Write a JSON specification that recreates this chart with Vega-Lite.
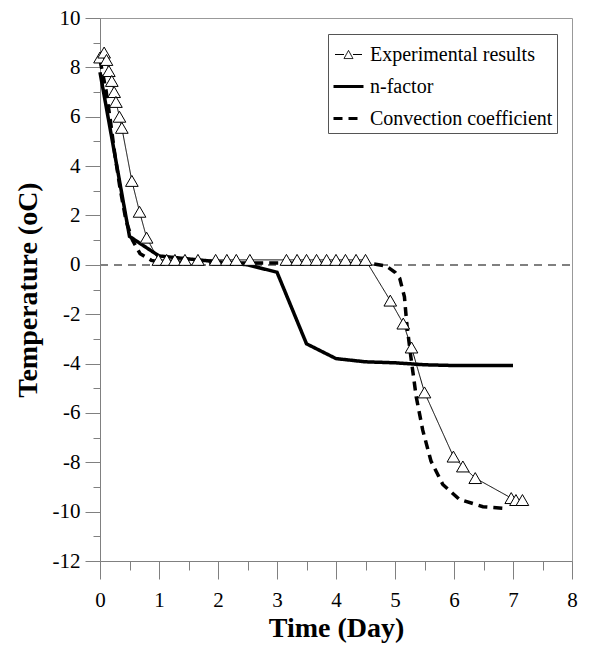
{
  "$schema": "https://vega.github.io/schema/vega-lite/v6.json",
  "width": 472,
  "height": 543,
  "autosize": {"type": "none"},
  "padding": {"left": 100, "top": 18, "right": 18, "bottom": 91},
  "background": "white",
  "config": {
    "view": {"stroke": "#999999", "strokeWidth": 1},
    "font": "Liberation Serif",
    "axis": {
      "grid": false,
      "domainColor": "#808080",
      "tickColor": "#808080",
      "labelColor": "black",
      "labelFont": "Liberation Serif",
      "labelFontSize": 21,
      "titleFont": "Liberation Serif",
      "titleFontSize": 28,
      "titleFontWeight": "bold",
      "titleColor": "black"
    }
  },
  "data": {
    "values": [
      {"series": "Experimental results", "time": 0.0, "temp": 8.4},
      {"series": "Experimental results", "time": 0.07, "temp": 8.6},
      {"series": "Experimental results", "time": 0.11, "temp": 8.3},
      {"series": "Experimental results", "time": 0.15, "temp": 7.85},
      {"series": "Experimental results", "time": 0.2, "temp": 7.45},
      {"series": "Experimental results", "time": 0.24, "temp": 7.0},
      {"series": "Experimental results", "time": 0.27, "temp": 6.6},
      {"series": "Experimental results", "time": 0.33, "temp": 6.0},
      {"series": "Experimental results", "time": 0.37, "temp": 5.55},
      {"series": "Experimental results", "time": 0.54, "temp": 3.4},
      {"series": "Experimental results", "time": 0.67, "temp": 2.15},
      {"series": "Experimental results", "time": 0.79, "temp": 1.1},
      {"series": "Experimental results", "time": 0.99, "temp": 0.2},
      {"series": "Experimental results", "time": 1.13, "temp": 0.2},
      {"series": "Experimental results", "time": 1.27, "temp": 0.2},
      {"series": "Experimental results", "time": 1.44, "temp": 0.2},
      {"series": "Experimental results", "time": 1.66, "temp": 0.2},
      {"series": "Experimental results", "time": 1.96, "temp": 0.2},
      {"series": "Experimental results", "time": 2.15, "temp": 0.2},
      {"series": "Experimental results", "time": 2.31, "temp": 0.2},
      {"series": "Experimental results", "time": 2.54, "temp": 0.2},
      {"series": "Experimental results", "time": 3.16, "temp": 0.2},
      {"series": "Experimental results", "time": 3.34, "temp": 0.2},
      {"series": "Experimental results", "time": 3.5, "temp": 0.2},
      {"series": "Experimental results", "time": 3.67, "temp": 0.2},
      {"series": "Experimental results", "time": 3.84, "temp": 0.2},
      {"series": "Experimental results", "time": 4.0, "temp": 0.2},
      {"series": "Experimental results", "time": 4.16, "temp": 0.2},
      {"series": "Experimental results", "time": 4.34, "temp": 0.2},
      {"series": "Experimental results", "time": 4.5, "temp": 0.2},
      {"series": "Experimental results", "time": 4.92, "temp": -1.45},
      {"series": "Experimental results", "time": 5.14, "temp": -2.38},
      {"series": "Experimental results", "time": 5.28, "temp": -3.35},
      {"series": "Experimental results", "time": 5.5, "temp": -5.17},
      {"series": "Experimental results", "time": 5.99, "temp": -7.77},
      {"series": "Experimental results", "time": 6.15, "temp": -8.17},
      {"series": "Experimental results", "time": 6.36, "temp": -8.64},
      {"series": "Experimental results", "time": 6.97, "temp": -9.45},
      {"series": "Experimental results", "time": 7.05, "temp": -9.53},
      {"series": "Experimental results", "time": 7.16, "temp": -9.53},
      {"series": "n-factor", "time": 0.0, "temp": 7.8},
      {"series": "n-factor", "time": 0.5, "temp": 1.15},
      {"series": "n-factor", "time": 1.0, "temp": 0.36},
      {"series": "n-factor", "time": 1.5, "temp": 0.24},
      {"series": "n-factor", "time": 2.0, "temp": 0.12},
      {"series": "n-factor", "time": 2.5, "temp": 0.0},
      {"series": "n-factor", "time": 3.0, "temp": -0.3},
      {"series": "n-factor", "time": 3.5, "temp": -3.2},
      {"series": "n-factor", "time": 4.0, "temp": -3.8},
      {"series": "n-factor", "time": 4.5, "temp": -3.93},
      {"series": "n-factor", "time": 5.0, "temp": -3.97},
      {"series": "n-factor", "time": 5.5, "temp": -4.05},
      {"series": "n-factor", "time": 6.0, "temp": -4.08},
      {"series": "n-factor", "time": 6.5, "temp": -4.08},
      {"series": "n-factor", "time": 7.0, "temp": -4.08},
      {"series": "Convection coefficient", "time": 0.0, "temp": 8.3},
      {"series": "Convection coefficient", "time": 0.1, "temp": 7.1},
      {"series": "Convection coefficient", "time": 0.17, "temp": 5.95},
      {"series": "Convection coefficient", "time": 0.25, "temp": 4.5},
      {"series": "Convection coefficient", "time": 0.34, "temp": 3.1},
      {"series": "Convection coefficient", "time": 0.44, "temp": 1.8},
      {"series": "Convection coefficient", "time": 0.55, "temp": 1.0},
      {"series": "Convection coefficient", "time": 0.68, "temp": 0.45},
      {"series": "Convection coefficient", "time": 0.87, "temp": 0.18},
      {"series": "Convection coefficient", "time": 1.0, "temp": 0.12},
      {"series": "Convection coefficient", "time": 1.5, "temp": 0.1},
      {"series": "Convection coefficient", "time": 2.0, "temp": 0.08},
      {"series": "Convection coefficient", "time": 3.0, "temp": 0.07},
      {"series": "Convection coefficient", "time": 4.0, "temp": 0.06},
      {"series": "Convection coefficient", "time": 4.6, "temp": 0.05},
      {"series": "Convection coefficient", "time": 4.85, "temp": -0.05},
      {"series": "Convection coefficient", "time": 5.0, "temp": -0.3},
      {"series": "Convection coefficient", "time": 5.08, "temp": -0.55},
      {"series": "Convection coefficient", "time": 5.16, "temp": -1.3},
      {"series": "Convection coefficient", "time": 5.2, "temp": -2.4},
      {"series": "Convection coefficient", "time": 5.27, "temp": -3.75},
      {"series": "Convection coefficient", "time": 5.36, "temp": -5.35},
      {"series": "Convection coefficient", "time": 5.47, "temp": -6.7},
      {"series": "Convection coefficient", "time": 5.61, "temp": -7.95},
      {"series": "Convection coefficient", "time": 5.81, "temp": -8.9},
      {"series": "Convection coefficient", "time": 6.09, "temp": -9.5},
      {"series": "Convection coefficient", "time": 6.49, "temp": -9.8},
      {"series": "Convection coefficient", "time": 6.88, "temp": -9.87}
    ]
  },
  "encoding": {
    "x": {
      "field": "time",
      "type": "quantitative",
      "scale": {"domain": [0, 8], "nice": false},
      "axis": {
        "title": "Time (Day)",
        "values": [0, 0.5, 1, 1.5, 2, 2.5, 3, 3.5, 4, 4.5, 5, 5.5, 6, 6.5, 7, 7.5, 8],
        "labelExpr": "datum.value % 1 === 0 ? ('' + datum.value) : ''",
        "tickSize": {"condition": {"test": "datum.value % 1 !== 0", "value": 9}, "value": 18},
        "labelPadding": 10,
        "titlePadding": 4,
        "labelFlush": false
      }
    },
    "y": {
      "field": "temp",
      "type": "quantitative",
      "scale": {"domain": [-12, 10], "nice": false},
      "axis": {
        "title": "Temperature (oC)",
        "values": [-12, -11, -10, -9, -8, -7, -6, -5, -4, -3, -2, -1, 0, 1, 2, 3, 4, 5, 6, 7, 8, 9, 10],
        "labelExpr": "datum.value % 2 === 0 ? ('' + datum.value) : ''",
        "tickSize": {"condition": {"test": "datum.value % 2 !== 0", "value": 7}, "value": 15},
        "labelPadding": 5,
        "titlePadding": 10,
        "labelFlush": false
      }
    }
  },
  "layer": [
    {
      "mark": {"type": "rule", "color": "#808080", "strokeDash": [8, 6], "strokeWidth": 1.5},
      "encoding": {"y": {"datum": 0}, "x": {"value": 0}, "x2": {"value": 472}}
    },
    {
      "mark": {"type": "line"},
      "encoding": {
        "color": {"value": "black"},
        "detail": {"field": "series"},
        "strokeDash": {
          "field": "series",
          "type": "nominal",
          "scale": {
            "domain": ["Experimental results", "n-factor", "Convection coefficient"],
            "range": [[1, 0], [1, 0], [9, 6]]
          },
          "legend": {
            "title": null,
            "orient": "none",
            "legendX": 228,
            "legendY": 16,
            "padding": 4,
            "rowPadding": 5,
            "strokeColor": "#555555",
            "fillColor": "white",
            "symbolSize": 900,
            "symbolType": {"expr": "(datum.value === 'Experimental results' ? 'M-0.9,0H-0.3M0.3,0H0.9M0,-0.27L0.3,0.27L-0.3,0.27Z' : 'M-1,0H1')"},
            "symbolStrokeWidth": {"expr": "(datum.value === 'Experimental results' ? 1 : 3)"},
            "symbolFillColor": "white",
            "symbolStrokeColor": "black",
            "labelFont": "Liberation Serif",
            "labelFontSize": 20,
            "labelColor": "black",
            "labelOffset": 5,
            "labelLimit": 400
          }
        },
        "strokeWidth": {
          "condition": {"test": "datum.series === 'Experimental results'", "value": 1},
          "value": 3.5
        }
      }
    },
    {
      "transform": [{"filter": "datum.series === 'Experimental results'"}],
      "mark": {
        "type": "point",
        "shape": "triangle-up",
        "size": 160,
        "filled": true,
        "fill": "white",
        "stroke": "black",
        "strokeWidth": 1,
        "opacity": 1
      }
    }
  ]
}
